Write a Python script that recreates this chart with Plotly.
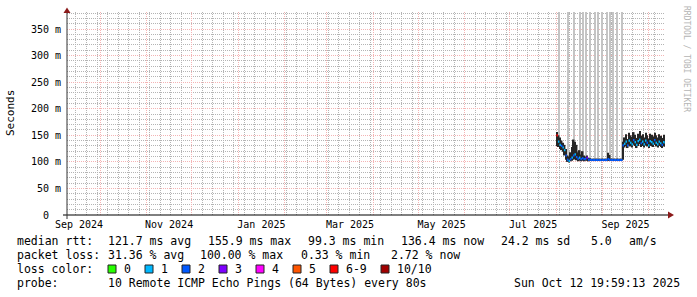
import plotly.graph_objects as go
import pandas as pd

# ---------------- axis setup ----------------
X_START = "2024-09-09 00:30"
X_END = "2025-10-12 07:40"
Y_MAX = 382

month_starts = [d.strftime("%Y-%m-%d") for d in pd.date_range("2024-10-01", "2025-10-01", freq="MS")]
week_lines = [d.strftime("%Y-%m-%d") for d in pd.date_range("2024-09-15", "2025-10-12", freq="7D")]
label_dates = ["2024-09-17", "2024-11-16", "2025-01-16 12:00", "2025-03-16 12:00",
               "2025-05-16 12:00", "2025-07-16 12:00", "2025-09-16"]
label_text = ["Sep 2024", "Nov 2024", "Jan 2025", "Mar 2025", "May 2025", "Jul 2025", "Sep 2025"]
y_major = [0, 50, 100, 150, 200, 250, 300, 350]
y_major_text = ["0\u00a0\u00a0", "50 m", "100 m", "150 m", "200 m", "250 m", "300 m", "350 m"]

# ---------------- data (ms), one value per day from 2025-08-01 ----------------
first_day = "2025-08-01"
median_ms = [150, 138, 132, 130, 127, 122, 112, 104, 102, 105, 108, 112, 114, 109, 106, 108,
             105, 107, 105, 106, 108, 104, 104,
             103.5, 103.5, 103.5, 103.5, 103.5, 103.5, 103.5, 103.5, 103.5, 103.5, 103.5,
             105, 104,
             103.5, 103.5, 103.5, 103.5, 103.5, 103.5, 103.5, 103.5,
             131,
             134, 138, 131, 140, 136, 133, 141, 137, 132, 139, 142, 135, 138, 133,
             140, 136, 131, 139, 137, 134, 141, 136, 133, 138, 135, 132, 137, 136]
smoke_lo = [130, 128, 124, 122, 119, 112, 104, 100, 99, 101, 102, 104, 105, 103, 101, 102,
            101, 102, 101, 102, 102, 101, 102,
            102, 102, 102, 102, 102, 102, 102, 102, 102, 102, 102,
            102, 102,
            102, 102, 102, 102, 102, 102, 102, 102,
            104,
            127, 130, 126, 131, 129, 127, 132, 130, 126, 130, 133, 128, 130, 127,
            131, 129, 126, 130, 129, 128, 132, 129, 127, 130, 128, 126, 129, 129]
smoke_hi = [156, 150, 146, 140, 136, 132, 124, 112, 110, 118, 128, 142, 138, 132, 118, 122,
            114, 120, 112, 110, 112, 108, 107,
            106, 106, 106, 106, 106, 106, 106, 106, 106, 106, 106,
            117, 113,
            106, 106, 106, 106, 106, 106, 106, 106,
            138,
            146, 152, 143, 155, 150, 147, 156, 151, 145, 153, 158, 149, 152, 146,
            155, 150, 144, 153, 151, 148, 155, 150, 146, 152, 149, 145, 151, 150]
loss_class = [6, 1, 1, 2, 1, 1, 2, 2, 1, 2, 1, 2, 1, 2, 2, 1,
              2, 2, 2, 2, 3, 2, 2,
              2, 2, 2, 2, 2, 2, 2, 2, 2, 2, 2,
              2, 2,
              2, 2, 2, 2, 2, 2, 2, 2,
              2,
              1, 1, 2, 1, 1, 1, 2, 1, 1, 1, 1, 2, 1, 1,
              1, 2, 1, 1, 1, 1, 2, 1, 1, 1, 1, 2, 1, 1]
# days (index from first_day) with very high outlier pings (beyond the top of the graph)
outlier_day = [1, 7, 11, 15, 17, 19, 22, 25, 27, 30, 33, 35, 37, 40, 43]
outlier_top_ms = [900, 900, 900, 900, 900, 900, 900, 900, 900, 900, 900, 900, 900, 900, 900]

loss_labels = ["0", "1", "2", "3", "4", "5", "6-9", "10/10"]
loss_colors = ["#26ff00", "#00b8ff", "#0059ff", "#7e00ff", "#ff00ff", "#ff5500", "#ff0000", "#a10000"]

# ---------------- build figure ----------------
n = len(median_ms)
day0 = pd.Timestamp(first_day)
day_start = [day0 + pd.Timedelta(days=i) for i in range(n)]
day_mid = [d + pd.Timedelta(hours=12) for d in day_start]
day_end = [d + pd.Timedelta(days=1) for d in day_start]
DAY_MS = 86400000

W, H = 697, 297
L, R, T, B = 67, 32, 12, 82
PW, PH = W - L - R, H - T - B


def px(xp):
    return (xp - L) / PW


def py(yp):
    return (H - B - yp) / PH


fig = go.Figure()

# outlier smoke (light gray, runs off the top)
fig.add_trace(go.Bar(
    x=[day_mid[i] for i in outlier_day],
    base=[median_ms[i] for i in outlier_day],
    y=[outlier_top_ms[k] - median_ms[outlier_day[k]] for k in range(len(outlier_day))],
    width=DAY_MS * 0.7, marker=dict(color="#c4c4c4", line=dict(width=0)),
    opacity=1, hoverinfo="skip", showlegend=False))

# main smoke
fig.add_trace(go.Bar(
    x=day_mid, base=smoke_lo, y=[h - l for h, l in zip(smoke_hi, smoke_lo)],
    width=DAY_MS, marker=dict(color="#262626", line=dict(width=0)),
    opacity=1, hoverinfo="skip", showlegend=False))

# median, coloured by loss
for k, col in enumerate(loss_colors):
    xs, ys = [], []
    for i in range(n):
        if loss_class[i] == k:
            xs += [day_start[i], day_end[i], None]
            ys += [median_ms[i], median_ms[i], None]
    if xs:
        fig.add_trace(go.Scatter(x=xs, y=ys, mode="lines", line=dict(color=col, width=2.2),
                                 hoverinfo="skip", showlegend=False))

# invisible trace for label axis
fig.add_trace(go.Scatter(x=label_dates, y=[0] * len(label_dates), xaxis="x2", mode="markers",
                         marker=dict(opacity=0), hoverinfo="skip", showlegend=False))

GRAY = "#b4b4b4"
RED = "#f4b4b4"
MONO = "DejaVu Sans Mono"

fig.update_layout(
    width=W, height=H, margin=dict(l=L, r=R, t=T, b=B),
    paper_bgcolor="white", plot_bgcolor="white",
    barmode="overlay", hovermode=False,
    font=dict(family=MONO, size=10, color="#000000"),
    xaxis=dict(type="date", range=[X_START, X_END], tickmode="array", tickvals=month_starts,
               showticklabels=False, ticks="", showgrid=True, gridcolor=RED, gridwidth=1,
               griddash="1px,1px", showline=False, zeroline=False,
               minor=dict(tickmode="array", tickvals=week_lines, showgrid=True, gridcolor=GRAY,
                          griddash="1px,1px", gridwidth=1, ticks="")),
    xaxis2=dict(type="date", overlaying="x", anchor="y", side="bottom", range=[X_START, X_END],
                tickmode="array", tickvals=label_dates, ticktext=label_text, showgrid=False,
                showline=False, zeroline=False, ticks="", ticklabelstandoff=2,
                tickfont=dict(family=MONO, size=10)),
    yaxis=dict(range=[0, Y_MAX], tickmode="array", tickvals=y_major, ticktext=y_major_text,
               showgrid=True, gridcolor=RED, griddash="1px,1px", gridwidth=1, ticks="",
               ticklabelstandoff=5, zeroline=False, showline=False,
               tickfont=dict(family=MONO, size=10),
               minor=dict(dtick=10, tick0=0, showgrid=True, gridcolor=GRAY, griddash="1px,1px",
                          gridwidth=1, ticks="")),
)

# axes lines and arrows (decoration)
AX = "#333333"
ARROW = "#8b1a1a"
shapes = [
    dict(type="line", xref="paper", yref="paper", x0=px(63), x1=px(668), y0=py(215), y1=py(215),
         line=dict(color="#000000", width=1)),
    dict(type="line", xref="paper", yref="paper", x0=px(67), x1=px(67), y0=py(219), y1=py(11),
         line=dict(color=AX, width=1)),
    dict(type="path", xref="paper", yref="paper",
         path=f"M {px(63.5)} {py(13)} L {px(70.5)} {py(13)} L {px(67)} {py(7.5)} Z",
         fillcolor=ARROW, line=dict(width=0)),
    dict(type="path", xref="paper", yref="paper",
         path=f"M {px(668)} {py(211.5)} L {px(668)} {py(218.5)} L {px(674)} {py(215)} Z",
         fillcolor=ARROW, line=dict(width=0)),
]

# loss colour swatches
LEG_FONT = dict(family=MONO, size=11.5, color="#000000")
annotations = []
bx = 108
for lab, col in zip(loss_labels, loss_colors):
    shapes.append(dict(type="rect", xref="paper", yref="paper", x0=px(bx), x1=px(bx + 8),
                       y0=py(273), y1=py(265), fillcolor=col, line=dict(color="#222222", width=1)))
    annotations.append(dict(x=px(bx + 15), y=py(269), text=lab))
    bx = bx + 15 + len(lab) * 7 + 15

legend_lines = [
    (241, [(16, "median rtt:"), (107, "121.7 ms avg"), (207, "155.9 ms max"), (307, "99.3 ms min"),
           (400, "136.4 ms now"), (500, "24.2 ms sd"), (590, "5.0"), (628, "am/s")]),
    (255, [(16, "packet loss:"), (107, "31.36 % avg"), (199, "100.00 % max"), (300, "0.33 % min"),
           (390, "2.72 % now")]),
    (269, [(16, "loss color:")]),
    (283, [(16, "probe:"), (107, "10 Remote ICMP Echo Pings (64 Bytes) every 80s"),
           (513, "Sun Oct 12 19:59:13 2025")]),
]
for yy, items in legend_lines:
    for xx, txt in items:
        annotations.append(dict(x=px(xx), y=py(yy), text=txt))

for a in annotations:
    a.update(xref="paper", yref="paper", xanchor="left", yanchor="middle", showarrow=False,
             font=LEG_FONT, borderpad=0)

annotations.append(dict(x=px(11), y=py(113), xref="paper", yref="paper", text="Seconds",
                        textangle=-90, showarrow=False, xanchor="center", yanchor="middle",
                        font=dict(family=MONO, size=11, color="#000000")))
annotations.append(dict(x=px(687), y=py(59), xref="paper", yref="paper",
                        text="RRDTOOL / TOBI OETIKER", textangle=90, showarrow=False,
                        xanchor="center", yanchor="middle",
                        font=dict(family=MONO, size=8, color="#b4b4b4")))

fig.update_layout(shapes=shapes, annotations=annotations)
fig.write_html("out.html", config={"displayModeBar": False})
